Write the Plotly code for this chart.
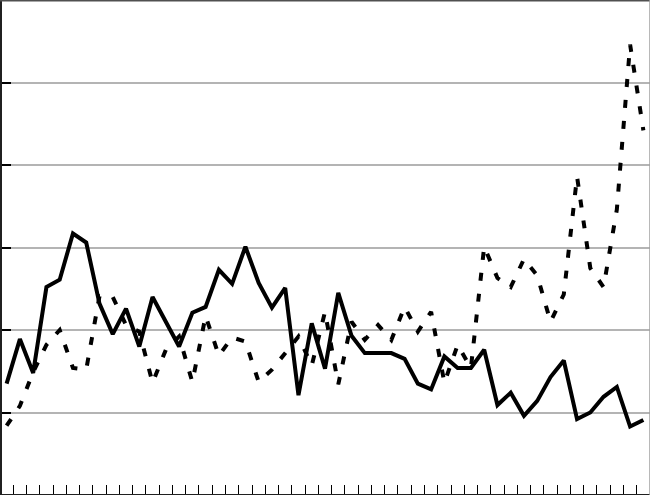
import plotly.graph_objects as go

# 49 periods, no labels on the axes
periods = list(range(49))

solid_values = [
    1.35, 1.89, 1.48, 2.52, 2.61, 3.17, 3.06, 2.32, 1.95, 2.26,
    1.80, 2.40, 2.10, 1.80, 2.21, 2.28, 2.73, 2.56, 3.01, 2.57,
    2.27, 2.51, 1.21, 2.08, 1.53, 2.45, 1.93, 1.72, 1.72, 1.72,
    1.65, 1.35, 1.28, 1.68, 1.54, 1.54, 1.76, 1.09, 1.24, 0.96,
    1.14, 1.43, 1.63, 0.92, 1.00, 1.19, 1.31, 0.83, 0.91,
]

dashed_values = [
    0.84, 1.08, 1.49, 1.82, 2.00, 1.54, 1.52, 2.41, 2.40, 2.06,
    1.98, 1.36, 1.76, 1.92, 1.37, 2.17, 1.69, 1.91, 1.86, 1.37,
    1.52, 1.72, 1.92, 1.57, 2.22, 1.34, 2.10, 1.88, 2.06, 1.88,
    2.28, 1.98, 2.22, 1.36, 1.82, 1.54, 3.01, 2.63, 2.52, 2.86,
    2.66, 2.10, 2.43, 3.86, 2.75, 2.52, 3.46, 5.46, 4.42,
]

y_gridlines = [1, 2, 3, 4, 5]

fig = go.Figure()

fig.add_trace(
    go.Scatter(
        x=periods,
        y=dashed_values,
        mode="lines",
        line={"color": "black", "width": 4, "dash": "8px,13px"},
        showlegend=False,
    )
)
fig.add_trace(
    go.Scatter(
        x=periods,
        y=solid_values,
        mode="lines",
        line={"color": "black", "width": 4},
        showlegend=False,
    )
)

# tick marks sit between periods
boundaries = [p + 0.5 for p in periods[:-1]]

fig.update_xaxes(
    range=[-0.5, 48.5],
    tickmode="array",
    tickvals=boundaries,
    ticks="inside",
    ticklen=10,
    tickwidth=1,
    tickcolor="black",
    showticklabels=False,
    showgrid=False,
    zeroline=False,
    showline=False,
)
fig.update_yaxes(
    range=[0, 6],
    tickmode="array",
    tickvals=y_gridlines,
    ticks="inside",
    ticklen=11,
    tickwidth=2,
    tickcolor="black",
    showticklabels=False,
    showgrid=True,
    gridcolor="#b4b4b4",
    gridwidth=1.5,
    zeroline=False,
    showline=False,
)

# frame: dark left/bottom, grey top, light right
fig.add_shape(type="line", xref="paper", yref="paper", x0=0, x1=0, y0=0, y1=1,
              line={"color": "#202020", "width": 4})
fig.add_shape(type="line", xref="paper", yref="paper", x0=0, x1=1, y0=0, y1=0,
              line={"color": "#202020", "width": 2})
fig.add_shape(type="line", xref="paper", yref="paper", x0=0, x1=1, y0=1, y1=1,
              line={"color": "#505050", "width": 3})
fig.add_shape(type="line", xref="paper", yref="paper", x0=1, x1=1, y0=0, y1=1,
              line={"color": "#a0a0a0", "width": 1.5})

fig.update_layout(
    width=650,
    height=495,
    margin={"l": 0, "r": 0, "t": 0, "b": 0},
    plot_bgcolor="white",
    paper_bgcolor="white",
)

# page body has a default 8px margin; drop it so the chart sits flush
fig.write_html(
    "out.html",
    config={"displayModeBar": False},
    post_script="document.body.style.margin = '0px';",
)
